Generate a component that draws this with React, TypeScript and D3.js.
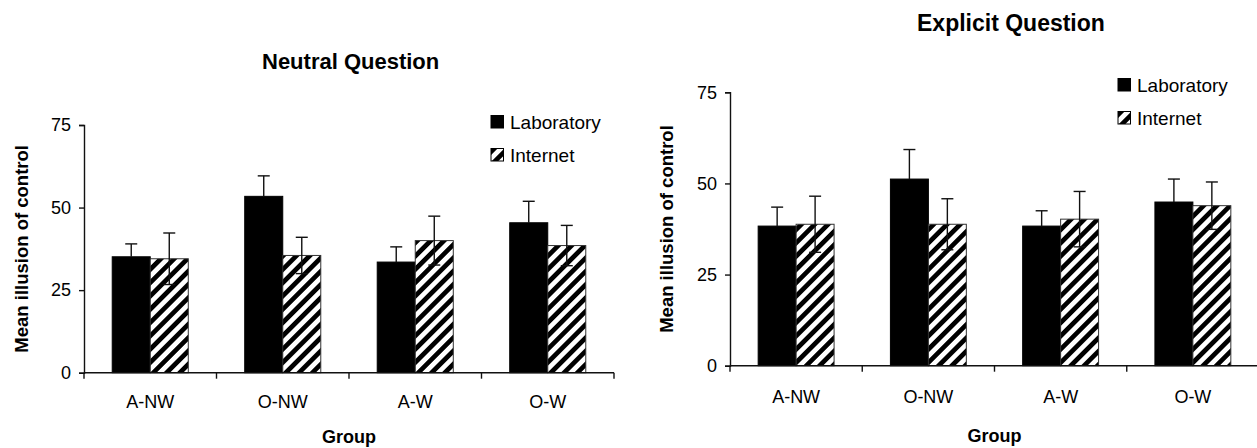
import React, { useRef, useEffect } from 'react';
import * as d3 from 'd3';

const groups = ['A-NW', 'O-NW', 'A-W', 'O-W'];
const seriesNames = ['Laboratory', 'Internet'];
const yTicks = [0, 25, 50, 75];

// Neutral question
const neutralLab = [35.1, 53.4, 33.5, 45.4];
const neutralLabErr = [3.9, 6.2, 4.6, 6.5];
const neutralNet = [34.5, 35.5, 40.0, 38.5];
const neutralNetErr = [7.8, 5.5, 7.4, 6.1];

// Explicit question
const explicitLab = [38.3, 51.2, 38.3, 44.9];
const explicitLabErr = [5.2, 8.1, 4.2, 6.3];
const explicitNet = [38.8, 38.8, 40.2, 43.9];
const explicitNetErr = [7.7, 7.0, 7.6, 6.5];

const FONT = '"Liberation Sans", Arial, sans-serif';

function drawPanel(svg, opts) {
  const { title, titleX, titleY, titleSize, left, right, top, bottom,
          lab, labErr, net, netErr, legendX, legendY, labelX, xLabelY, tickLabelY } = opts;

  const g = svg.append('g');

  const x0 = d3.scaleBand().domain(groups).range([left, right]);
  const x1 = d3.scaleBand().domain(seriesNames)
               .range([0, x0.bandwidth()])
               .paddingInner(0)
               .paddingOuter(0.742);
  const y = d3.scaleLinear().domain([0, 75]).range([bottom, top]);

  const rows = groups.map((grp, i) => ({
    grp,
    vals: [
      { s: 'Laboratory', v: lab[i], e: labErr[i] },
      { s: 'Internet', v: net[i], e: netErr[i] },
    ],
  }));

  // bars
  const grpSel = g.selectAll('g.grp').data(rows).join('g')
    .attr('class', 'grp')
    .attr('transform', d => `translate(${x0(d.grp)},0)`);

  grpSel.selectAll('rect').data(d => d.vals).join('rect')
    .attr('x', d => x1(d.s))
    .attr('y', d => y(d.v))
    .attr('width', x1.bandwidth())
    .attr('height', d => y(0) - y(d.v))
    .attr('fill', d => d.s === 'Laboratory' ? '#000' : 'url(#hatch)')
    .attr('stroke', d => d.s === 'Laboratory' ? '#000' : '#333')
    .attr('stroke-width', 1);

  // error bars (lab: only the upper half shows above the solid bar)
  const cap = 6;
  const cx = d => x1(d.s) + x1.bandwidth() / 2;
  const lo = d => d.s === 'Laboratory' ? y(d.v) : y(d.v - d.e);
  const eb = grpSel.selectAll('g.err').data(d => d.vals).join('g').attr('class', 'err')
    .attr('stroke', '#111').attr('stroke-width', 1.4);
  eb.append('line')
    .attr('x1', cx).attr('x2', cx)
    .attr('y1', lo)
    .attr('y2', d => y(d.v + d.e));
  eb.append('line')
    .attr('x1', d => cx(d) - cap)
    .attr('x2', d => cx(d) + cap)
    .attr('y1', d => y(d.v + d.e))
    .attr('y2', d => y(d.v + d.e));
  eb.filter(d => d.s === 'Internet').append('line')
    .attr('x1', d => cx(d) - cap)
    .attr('x2', d => cx(d) + cap)
    .attr('y1', d => y(d.v - d.e))
    .attr('y2', d => y(d.v - d.e));

  // y axis
  g.append('g')
    .attr('transform', `translate(${left},0)`)
    .call(d3.axisLeft(y).tickValues(yTicks).tickSize(5).tickPadding(8))
    .call(a => a.select('.domain').attr('stroke', '#111').attr('stroke-width', 1.4))
    .call(a => a.selectAll('.tick line').attr('stroke', '#111').attr('stroke-width', 1.4))
    .call(a => a.selectAll('text').attr('font-family', FONT).attr('font-size', 18).attr('fill', '#000'));

  // x axis line + ticks at band edges
  g.append('line')
    .attr('x1', left).attr('x2', right)
    .attr('y1', y(0)).attr('y2', y(0))
    .attr('stroke', '#111').attr('stroke-width', 1.4);
  const edges = groups.map(d => x0(d)).concat([right]);
  g.selectAll('line.xt').data(edges).join('line')
    .attr('class', 'xt')
    .attr('x1', d => d).attr('x2', d => d)
    .attr('y1', y(0)).attr('y2', y(0) + 6)
    .attr('stroke', '#111').attr('stroke-width', 1.4);
  g.selectAll('text.xl').data(groups).join('text')
    .attr('class', 'xl')
    .attr('x', d => x0(d) + x0.bandwidth() / 2)
    .attr('y', tickLabelY)
    .attr('text-anchor', 'middle')
    .attr('font-family', FONT).attr('font-size', 18)
    .text(d => d);

  // titles
  g.append('text')
    .attr('x', titleX).attr('y', titleY)
    .attr('font-family', FONT).attr('font-size', titleSize).attr('font-weight', 'bold')
    .text(title);
  g.append('text')
    .attr('x', (left + right) / 2).attr('y', xLabelY)
    .attr('text-anchor', 'middle')
    .attr('font-family', FONT).attr('font-size', 18).attr('font-weight', 'bold')
    .text('Group');
  g.append('text')
    .attr('transform', `translate(${labelX},${(top + bottom) / 2}) rotate(-90)`)
    .attr('text-anchor', 'middle')
    .attr('font-family', FONT).attr('font-size', 18.5).attr('font-weight', 'bold')
    .text('Mean illusion of control');

  // legend
  const leg = g.selectAll('g.leg').data(seriesNames).join('g')
    .attr('class', 'leg')
    .attr('transform', (d, i) => `translate(${legendX},${legendY + i * 33})`);
  leg.append('rect')
    .attr('width', 12.5).attr('height', 12.5)
    .attr('fill', d => d === 'Laboratory' ? '#000' : 'url(#hatch)')
    .attr('stroke', '#000').attr('stroke-width', 1);
  leg.append('text')
    .attr('x', 19).attr('y', 13)
    .attr('font-family', FONT).attr('font-size', 19)
    .text(d => d);
}

export default function App() {
  const ref = useRef(null);

  useEffect(() => {
    const root = d3.select(ref.current);
    root.selectAll('*').remove();
    const svg = root.append('svg')
      .attr('width', 1257)
      .attr('height', 448)
      .style('position', 'absolute')
      .style('left', 0)
      .style('top', 0)
      .style('background', '#fff');

    const defs = svg.append('defs');
    const p = defs.append('pattern')
      .attr('id', 'hatch')
      .attr('patternUnits', 'userSpaceOnUse')
      .attr('width', 9.4).attr('height', 9.4)
      .attr('patternTransform', 'rotate(45)');
    p.append('rect').attr('width', 9.4).attr('height', 9.4).attr('fill', '#fff');
    p.append('rect').attr('width', 4.7).attr('height', 9.4).attr('fill', '#000');

    drawPanel(svg, {
      title: 'Neutral Question', titleX: 262, titleY: 69, titleSize: 22,
      left: 84, right: 614, top: 125, bottom: 372.7,
      lab: neutralLab, labErr: neutralLabErr, net: neutralNet, netErr: neutralNetErr,
      legendX: 491, legendY: 115.5, labelX: 28, xLabelY: 443, tickLabelY: 408,
    });

    drawPanel(svg, {
      title: 'Explicit Question', titleX: 917, titleY: 31, titleSize: 23,
      left: 730, right: 1259, top: 92.3, bottom: 365.7,
      lab: explicitLab, labErr: explicitLabErr, net: explicitNet, netErr: explicitNetErr,
      legendX: 1118, legendY: 78.5, labelX: 673, xLabelY: 441.5, tickLabelY: 403,
    });
  }, []);

  return <div ref={ref}></div>;
}
